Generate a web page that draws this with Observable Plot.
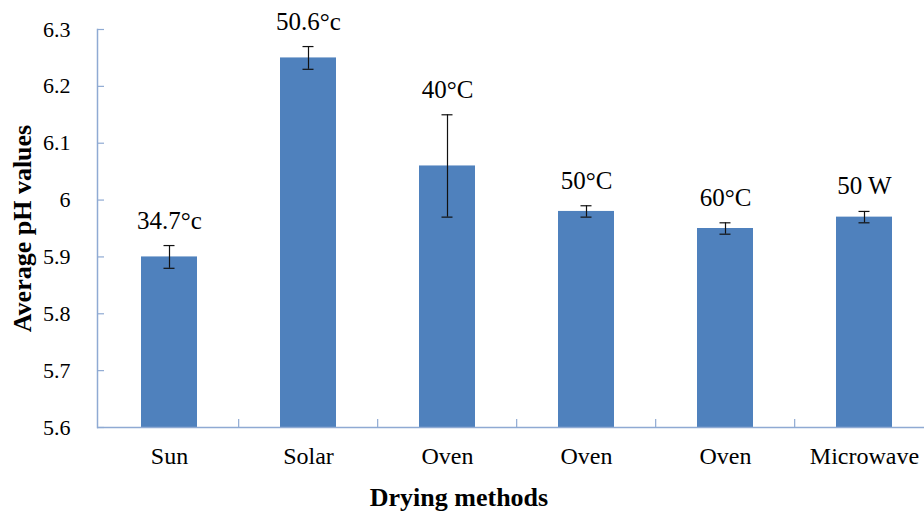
<!DOCTYPE html>
<html>
<head>
<meta charset="utf-8">
<script src="https://cdn.jsdelivr.net/npm/d3@7"></script>
<script src="https://cdn.jsdelivr.net/npm/@observablehq/plot@0.6"></script>
<style>
  html, body { margin: 0; padding: 0; background: #fff; overflow: hidden; }
  #chart svg { display: block; }
</style>
</head>
<body>
<div id="chart"></div>
<script>
// ---- data ----
const methods = ["Sun", "Solar", "Oven", "Oven", "Oven", "Microwave"];
const conditions = ["34.7°c", "50.6°c", "40°C", "50°C", "60°C", "50 W"];
const meanPH = [5.90, 6.25, 6.06, 5.98, 5.95, 5.97];
const errPH = [0.02, 0.02, 0.09, 0.01, 0.01, 0.01];
const yTicks = [5.6, 5.7, 5.8, 5.9, 6.0, 6.1, 6.2, 6.3];
const yTickLabels = ["5.6", "5.7", "5.8", "5.9", "6", "6.1", "6.2", "6.3"];

const rows = methods.map((m, i) => ({
  key: i, method: m, cond: conditions[i], mean: meanPH[i], err: errPH[i],
  lo: meanPH[i] - errPH[i], hi: meanPH[i] + errPH[i]
}));
const keys = rows.map(d => d.key);

const axisColor = "#8FAAD3";
const barColor = "#4F81BD";
const font = "Liberation Serif";

const W = 924, H = 512, mL = 97, mT = 29, mB = 85;
const step = (935 - mL) / keys.length;

const chart = Plot.plot({
  width: W, height: H,
  marginLeft: mL, marginRight: 0, marginTop: mT, marginBottom: mB,
  style: { fontFamily: font, color: "#000", background: "#fff" },
  x: { type: "band", domain: keys, range: [mL, 935], paddingInner: 0.6, paddingOuter: 0.3, label: null },
  y: { domain: [5.6, 6.3], label: null },
  marks: [
    Plot.barY(rows, { x: "key", y1: 5.6, y2: "mean", fill: barColor }),
    // error bars
    Plot.ruleX(rows, { x: "key", y1: "lo", y2: "hi", stroke: "#111", strokeWidth: 1.2 }),
    Plot.tickY(rows, { x: "key", y: "hi", stroke: "#111", strokeWidth: 1.2, insetLeft: 22.5, insetRight: 22.5 }),
    Plot.tickY(rows, { x: "key", y: "lo", stroke: "#111", strokeWidth: 1.2, insetLeft: 22.5, insetRight: 22.5 }),
    // condition labels
    Plot.text(rows, { x: "key", y: "hi", text: "cond", dy: -25, fontSize: 25, fontFamily: font, fill: "#000" }),
    // axes lines
    Plot.ruleY([5.6], { stroke: axisColor, strokeWidth: 1.5 }),
    Plot.frame({ anchor: "left", stroke: axisColor, strokeWidth: 1.5 }),
    // inward y ticks
    Plot.tickY(yTicks, { y: d => d, stroke: axisColor, strokeWidth: 1.2, insetRight: W - mL - 7 }),
    // x ticks at band boundaries
    Plot.tickX(keys.slice(1), { x: d => d, dx: -step / 2, stroke: axisColor, strokeWidth: 1.2, insetTop: H - mT - mB - 8 }),
    Plot.axisY({ ticks: yTicks, tickFormat: (d, i) => yTickLabels[i], tickSize: 0, tickPadding: 27, fontSize: 22, fontFamily: font, label: null }),
    Plot.axisX({ tickSize: 0, tickPadding: 19, fontSize: 24, fontFamily: font, tickFormat: i => methods[i], label: null }),
    // titles
    Plot.text(["Average pH values"], { frameAnchor: "left", textAnchor: "middle", rotate: -90, dx: -75, fontSize: 26, fontWeight: "bold", fontFamily: font, fill: "#000" }),
    Plot.text(["Drying methods"], { frameAnchor: "bottom", dx: -52, dy: 78, fontSize: 26, fontWeight: "bold", fontFamily: font, fill: "#000" })
  ]
});
document.getElementById("chart").appendChild(chart);
</script>
</body>
</html>
